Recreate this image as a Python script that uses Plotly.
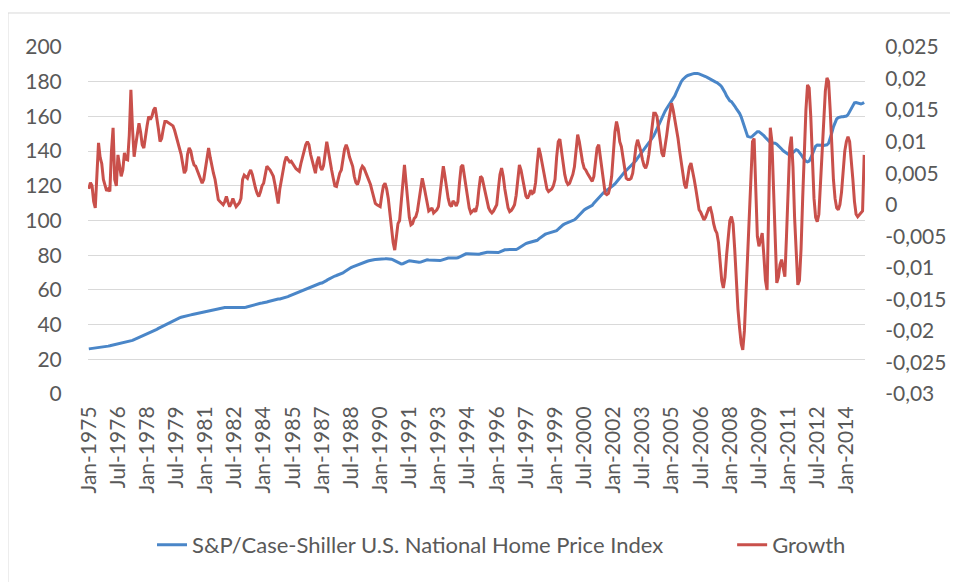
import plotly.graph_objects as go

# monthly categories Jan-1975 .. Dec-2014
MONTHS = ["Jan", "Feb", "Mar", "Apr", "May", "Jun", "Jul", "Aug", "Sep", "Oct", "Nov", "Dec"]
categories = [f"{m}-{y}" for y in range(1975, 2015) for m in MONTHS]

# tick labels shown on the x axis (every 18 months)
tick_labels = [
    "Jan-1975", "Jul-1976", "Jan-1978", "Jul-1979", "Jan-1981", "Jul-1982", "Jan-1984",
    "Jul-1985", "Jan-1987", "Jul-1988", "Jan-1990", "Jul-1991", "Jan-1993", "Jul-1994",
    "Jan-1996", "Jul-1997", "Jan-1999", "Jul-2000", "Jan-2002", "Jul-2003", "Jan-2005",
    "Jul-2006", "Jan-2008", "Jul-2009", "Jan-2011", "Jul-2012", "Jan-2014",
]

# S&P/Case-Shiller U.S. National Home Price Index, one row per year
hpi = [
    26.0, 26.1, 26.2, 26.3, 26.5, 26.7, 26.9, 27.1, 27.2, 27.3, 27.4, 27.5,        # 1975
    27.6, 27.8, 28.0, 28.2, 28.4, 28.6, 28.8, 29.0, 29.2, 29.4, 29.6, 29.8,        # 1976
    30.0, 30.3, 30.6, 30.9, 31.3, 31.7, 32.1, 32.5, 32.9, 33.3, 33.7, 34.1,        # 1977
    34.5, 34.9, 35.4, 35.8, 36.3, 36.8, 37.3, 37.8, 38.3, 38.8, 39.3, 39.8,        # 1978
    40.3, 40.8, 41.3, 41.8, 42.3, 42.7, 43.1, 43.5, 43.9, 44.2, 44.5, 44.8,        # 1979
    45.0, 45.2, 45.4, 45.6, 45.8, 46.0, 46.2, 46.4, 46.6, 46.8, 47.0, 47.2,        # 1980
    47.4, 47.6, 47.8, 48.0, 48.3, 48.6, 48.9, 49.2, 49.4, 49.6, 49.7, 49.8,        # 1981
    49.8, 49.8, 49.8, 49.7, 49.7, 49.6, 49.6, 49.5, 49.5, 49.5, 49.5, 49.6,        # 1982
    49.8, 50.0, 50.3, 50.6, 50.9, 51.2, 51.5, 51.8, 52.0, 52.2, 52.3, 52.4,        # 1983
    52.5, 52.7, 53.0, 53.3, 53.6, 53.9, 54.2, 54.4, 54.6, 54.7, 54.8, 55.0,        # 1984
    55.2, 55.5, 55.8, 56.1, 56.5, 56.9, 57.3, 57.7, 58.1, 58.5, 58.9, 59.2,        # 1985
    59.5, 59.9, 60.3, 60.8, 61.3, 61.8, 62.2, 62.6, 63.0, 63.3, 63.6, 63.8,        # 1986
    64.0, 64.4, 64.9, 65.5, 66.1, 66.7, 67.2, 67.6, 68.0, 68.3, 68.6, 68.9,        # 1987
    69.3, 69.8, 70.4, 71.1, 71.8, 72.4, 72.9, 73.3, 73.7, 74.0, 74.3, 74.6,        # 1988
    74.9, 75.3, 75.7, 76.1, 76.5, 76.8, 77.1, 77.3, 77.4, 77.5, 77.5, 77.5,        # 1989
    77.5, 77.5, 77.7, 77.9, 78.0, 78.0, 77.9, 77.7, 77.3, 76.8, 76.2, 75.6,        # 1990
    75.2, 75.0, 75.1, 75.6, 76.2, 76.6, 76.8, 76.7, 76.5, 76.3, 76.1, 75.9,        # 1991
    75.9, 76.0, 76.4, 76.8, 77.1, 77.3, 77.2, 77.1, 77.0, 76.9, 76.8, 76.8,        # 1992
    76.8, 76.9, 77.2, 77.6, 78.0, 78.3, 78.4, 78.4, 78.3, 78.4, 78.4, 78.4,        # 1993
    78.5, 79.0, 79.6, 80.2, 80.6, 80.8, 80.9, 80.8, 80.7, 80.6, 80.5, 80.4,        # 1994
    80.4, 80.5, 80.8, 81.1, 81.4, 81.6, 81.7, 81.7, 81.6, 81.5, 81.4, 81.3,        # 1995
    81.3, 81.5, 81.9, 82.4, 82.8, 83.1, 83.2, 83.2, 83.1, 83.0, 83.0, 83.0,        # 1996
    83.3, 83.7, 84.4, 85.1, 85.8, 86.3, 86.7, 87.0, 87.2, 87.4, 87.6, 87.9,        # 1997
    88.1, 88.6, 89.4, 90.2, 91.0, 91.6, 92.1, 92.4, 92.7, 92.9, 93.2, 93.4,        # 1998
    93.7, 94.2, 95.0, 95.9, 96.8, 97.5, 98.0, 98.4, 98.7, 99.1, 99.5, 99.9,        # 1999
    100.4, 101.2, 102.3, 103.4, 104.5, 105.4, 106.1, 106.7, 107.3, 107.8, 108.3, 108.7,  # 2000
    110.0, 111.0, 112.2, 113.4, 114.5, 115.4, 116.1, 116.7, 117.3, 117.9, 118.6, 119.4,  # 2001
    120.2, 121.1, 122.3, 123.6, 124.9, 126.0, 127.0, 127.9, 128.8, 129.7, 130.6, 131.5,  # 2002
    132.4, 133.3, 134.5, 135.9, 137.3, 138.7, 140.0, 141.2, 142.4, 143.6, 144.8, 146.0,  # 2003
    147.3, 148.8, 150.8, 153.0, 155.3, 157.5, 159.5, 161.3, 163.0, 164.6, 166.0, 167.3,  # 2004
    168.5, 169.9, 171.8, 174.0, 176.2, 178.3, 180.0, 181.3, 182.3, 183.0, 183.6, 184.0,  # 2005
    184.3, 184.5, 184.7, 184.8, 184.7, 184.5, 184.2, 183.9, 183.5, 183.0, 182.5, 181.9,  # 2006
    181.4, 180.8, 180.3, 179.9, 179.5, 178.9, 178.1, 177.0, 175.6, 173.8, 171.8, 170.0,  # 2007
    169.0, 168.5, 167.5, 166.0, 164.5, 163.2, 161.8, 159.8, 157.0, 153.5, 150.5, 148.5,  # 2008
    148.2, 148.0, 148.6, 149.6, 150.6, 151.2, 151.2, 150.6, 149.8, 148.9, 147.8, 146.8,  # 2009
    145.8, 145.0, 144.6, 144.6, 144.5, 144.0, 143.2, 142.2, 141.2, 140.2, 139.4, 138.7,  # 2010
    138.2, 137.8, 138.2, 139.2, 140.3, 140.8, 140.4, 139.4, 138.0, 136.5, 135.2, 134.2,  # 2011
    133.8, 134.2, 136.0, 138.7, 141.0, 142.8, 143.5, 143.6, 143.5, 143.4, 143.3, 143.3,  # 2012
    143.6, 144.5, 147.0, 150.5, 154.0, 156.8, 158.5, 159.3, 159.7, 159.8, 159.8, 159.9,  # 2013
    160.2, 161.0, 162.8, 165.0, 166.8, 167.8, 168.0, 167.6, 167.2, 167.2, 167.5, 168.0,  # 2014
]

# monthly growth of the index (secondary axis), one row per year
growth = [
    0.0025, 0.0035, 0.0030, 0.0005, -0.0005, 0.0040, 0.0098, 0.0075, 0.0065, 0.0040, 0.0032, 0.0022,   # 1975
    0.0025, 0.0021, 0.0085, 0.0122, 0.0040, 0.0030, 0.0079, 0.0060, 0.0045, 0.0055, 0.0082, 0.0072,    # 1976
    0.0071, 0.0110, 0.0182, 0.0120, 0.0076, 0.0095, 0.0115, 0.0129, 0.0115, 0.0095, 0.0090, 0.0110,    # 1977
    0.0125, 0.0140, 0.0135, 0.0140, 0.0150, 0.0154, 0.0140, 0.0120, 0.0100, 0.0105, 0.0120, 0.0132,    # 1978
    0.0132, 0.0130, 0.0128, 0.0127, 0.0125, 0.0118, 0.0108, 0.0100, 0.0092, 0.0080, 0.0065, 0.0050,    # 1979
    0.0055, 0.0080, 0.0090, 0.0085, 0.0072, 0.0063, 0.0061, 0.0055, 0.0048, 0.0040, 0.0034, 0.0040,    # 1980
    0.0055, 0.0075, 0.0090, 0.0075, 0.0060, 0.0050, 0.0040, 0.0020, 0.0008, 0.0005, 0.0003, 0.0000,    # 1981
    0.0005, 0.0013, 0.0004, -0.0003, 0.0002, 0.0010, 0.0003, -0.0003, 0.0000, 0.0003, 0.0010, 0.0040,  # 1982
    0.0047, 0.0045, 0.0042, 0.0050, 0.0055, 0.0048, 0.0035, 0.0026, 0.0018, 0.0013, 0.0020, 0.0030,    # 1983
    0.0034, 0.0045, 0.0061, 0.0058, 0.0055, 0.0050, 0.0045, 0.0032, 0.0015, 0.0002, 0.0025, 0.0040,    # 1984
    0.0055, 0.0068, 0.0076, 0.0072, 0.0068, 0.0069, 0.0065, 0.0060, 0.0057, 0.0055, 0.0053, 0.0065,    # 1985
    0.0076, 0.0085, 0.0095, 0.0100, 0.0095, 0.0080, 0.0069, 0.0060, 0.0050, 0.0068, 0.0076, 0.0060,    # 1986
    0.0055, 0.0062, 0.0085, 0.0100, 0.0085, 0.0068, 0.0055, 0.0042, 0.0030, 0.0029, 0.0040, 0.0050,    # 1987
    0.0055, 0.0070, 0.0088, 0.0095, 0.0088, 0.0076, 0.0068, 0.0061, 0.0045, 0.0035, 0.0032, 0.0040,    # 1988
    0.0055, 0.0061, 0.0058, 0.0052, 0.0045, 0.0040, 0.0032, 0.0022, 0.0010, 0.0002, 0.0000, -0.0002,   # 1989
    -0.0003, 0.0015, 0.0030, 0.0034, 0.0025, 0.0010, -0.0013, -0.0035, -0.0060, -0.0072, -0.0050, -0.0030,  # 1990
    -0.0025, 0.0005, 0.0040, 0.0063, 0.0035, 0.0005, -0.0020, -0.0032, -0.0030, -0.0022, -0.0019, -0.0010,  # 1991
    0.0010, 0.0030, 0.0042, 0.0030, 0.0015, 0.0002, -0.0010, -0.0008, -0.0005, -0.0013, -0.0010, -0.0008,  # 1992
    -0.0003, 0.0020, 0.0045, 0.0061, 0.0045, 0.0025, 0.0010, 0.0000, -0.0003, 0.0006, 0.0003, -0.0002,  # 1993
    0.0005, 0.0035, 0.0060, 0.0063, 0.0045, 0.0025, 0.0008, -0.0005, -0.0013, -0.0010, -0.0008, -0.0011,  # 1994
    0.0000, 0.0025, 0.0045, 0.0042, 0.0030, 0.0015, 0.0005, -0.0005, -0.0010, -0.0013, -0.0010, -0.0005,  # 1995
    0.0000, 0.0025, 0.0048, 0.0058, 0.0045, 0.0025, 0.0008, -0.0005, -0.0011, -0.0009, -0.0005, 0.0000,  # 1996
    0.0015, 0.0045, 0.0063, 0.0055, 0.0040, 0.0025, 0.0014, 0.0010, 0.0015, 0.0023, 0.0018, 0.0020,    # 1997
    0.0035, 0.0065, 0.0090, 0.0080, 0.0065, 0.0048, 0.0035, 0.0025, 0.0021, 0.0023, 0.0025, 0.0030,    # 1998
    0.0040, 0.0075, 0.0100, 0.0104, 0.0085, 0.0065, 0.0048, 0.0037, 0.0032, 0.0034, 0.0040, 0.0048,    # 1999
    0.0060, 0.0090, 0.0111, 0.0100, 0.0082, 0.0068, 0.0058, 0.0055, 0.0050, 0.0045, 0.0040, 0.0037,    # 2000
    0.0045, 0.0070, 0.0090, 0.0095, 0.0075, 0.0050, 0.0030, 0.0018, 0.0016, 0.0018, 0.0028, 0.0045,    # 2001
    0.0080, 0.0115, 0.0132, 0.0120, 0.0100, 0.0092, 0.0075, 0.0055, 0.0042, 0.0040, 0.0040, 0.0042,    # 2002
    0.0050, 0.0070, 0.0092, 0.0103, 0.0095, 0.0085, 0.0072, 0.0062, 0.0058, 0.0065, 0.0080, 0.0100,    # 2003
    0.0125, 0.0145, 0.0145, 0.0140, 0.0120, 0.0100, 0.0082, 0.0076, 0.0090, 0.0110, 0.0130, 0.0150,    # 2004
    0.0161, 0.0150, 0.0135, 0.0124, 0.0105, 0.0085, 0.0065, 0.0045, 0.0032, 0.0026, 0.0040, 0.0060,    # 2005
    0.0066, 0.0055, 0.0040, 0.0025, 0.0005, -0.0008, -0.0012, -0.0018, -0.0024, -0.0020, -0.0012, -0.0006,  # 2006
    -0.0005, -0.0015, -0.0030, -0.0040, -0.0045, -0.0060, -0.0090, -0.0120, -0.0132, -0.0115, -0.0080, -0.0050,  # 2007
    -0.0025, -0.0019, -0.0030, -0.0070, -0.0120, -0.0165, -0.0195, -0.0220, -0.0230, -0.0200, -0.0140, -0.0085,  # 2008
    -0.0030, 0.0040, 0.0100, 0.0105, 0.0040, -0.0050, -0.0066, -0.0055, -0.0045, -0.0080, -0.0120, -0.0135,  # 2009
    0.0000, 0.0122, 0.0100, 0.0020, -0.0070, -0.0124, -0.0115, -0.0095, -0.0087, -0.0100, -0.0114, -0.0050,  # 2010
    0.0030, 0.0090, 0.0108, 0.0060, -0.0020, -0.0080, -0.0127, -0.0120, -0.0070, 0.0010, 0.0090, 0.0150,  # 2011
    0.0190, 0.0185, 0.0140, 0.0070, 0.0010, -0.0020, -0.0027, -0.0015, 0.0030, 0.0080, 0.0140, 0.0180,  # 2012
    0.0201, 0.0195, 0.0150, 0.0090, 0.0040, 0.0010, -0.0005, -0.0008, 0.0000, 0.0020, 0.0050, 0.0085,  # 2013
    0.0100, 0.0108, 0.0100, 0.0075, 0.0040, 0.0005, -0.0015, -0.0019, -0.0016, -0.0014, -0.0010, 0.0079,  # 2014
]

# secondary axis ticks (decimal comma, as in the original)
growth_ticks = [-0.03, -0.025, -0.02, -0.015, -0.01, -0.005, 0, 0.005, 0.01, 0.015, 0.02, 0.025]
growth_tick_text = ["-0,03", "-0,025", "-0,02", "-0,015", "-0,01", "-0,005", "0",
                    "0,005", "0,01", "0,015", "0,02", "0,025"]

BLUE = "#4A86C8"
RED = "#C9504B"
GREY_TEXT = "#595959"
GRID = "#D9D9D9"
FONT = "Lato, Open Sans, sans-serif"

# the page body keeps its default 8px margin, so the figure is 8px smaller
# and the left/top margins are 8px smaller to put the plot where it belongs
fig = go.Figure()

fig.add_trace(go.Scatter(
    x=categories, y=hpi,
    name="S&P/Case-Shiller U.S. National Home Price Index",
    mode="lines",
    line=dict(color=BLUE, width=3),
    legend="legend",
))
fig.add_trace(go.Scatter(
    x=categories, y=growth,
    name="Growth",
    mode="lines",
    yaxis="y2",
    line=dict(color=RED, width=3),
    legend="legend2",
))

_legend_common = dict(
    orientation="h",
    xanchor="left",
    y=-0.435,
    yanchor="middle",
    font=dict(size=22, color=GREY_TEXT),
    bgcolor="rgba(0,0,0,0)",
)

fig.update_layout(
    width=950,
    height=574,
    margin=dict(l=80, r=93, t=39, b=188, autoexpand=False),
    paper_bgcolor="white",
    plot_bgcolor="white",
    font=dict(family=FONT, color=GREY_TEXT, size=21),
    xaxis=dict(
        type="category",
        range=[-0.5, len(categories) - 0.5],
        tickmode="array",
        tickvals=tick_labels,
        ticktext=tick_labels,
        tickangle=-90,
        showgrid=False,
        showline=False,
        zeroline=False,
        ticks="outside",
        ticklen=3,
        tickcolor="rgba(0,0,0,0)",
        tickfont=dict(size=21, color=GREY_TEXT),
    ),
    yaxis=dict(
        range=[0, 200],
        tick0=0,
        dtick=20,
        showgrid=True,
        gridcolor=GRID,
        gridwidth=1,
        zeroline=False,
        showline=False,
        ticks="outside",
        ticklen=21,
        tickcolor="rgba(0,0,0,0)",
        tickfont=dict(size=21, color=GREY_TEXT),
    ),
    yaxis2=dict(
        overlaying="y",
        side="right",
        range=[-0.03, 0.025],
        tickmode="array",
        tickvals=growth_ticks,
        ticktext=growth_tick_text,
        showgrid=False,
        zeroline=False,
        showline=False,
        ticks="outside",
        ticklen=15,
        tickcolor="rgba(0,0,0,0)",
        tickfont=dict(size=21, color=GREY_TEXT),
    ),
    legend=dict(x=0.0824, **_legend_common),
    legend2=dict(x=0.829, **_legend_common),
    showlegend=True,
    shapes=[
        # light outer frame of the chart area
        dict(
            type="rect", xref="paper", yref="paper",
            x0=-0.103, x1=1.125, y0=-0.57, y1=1.098,
            line=dict(color=GRID, width=1),
            fillcolor="rgba(0,0,0,0)",
            layer="below",
        )
    ],
)

fig.write_html("out.html")
